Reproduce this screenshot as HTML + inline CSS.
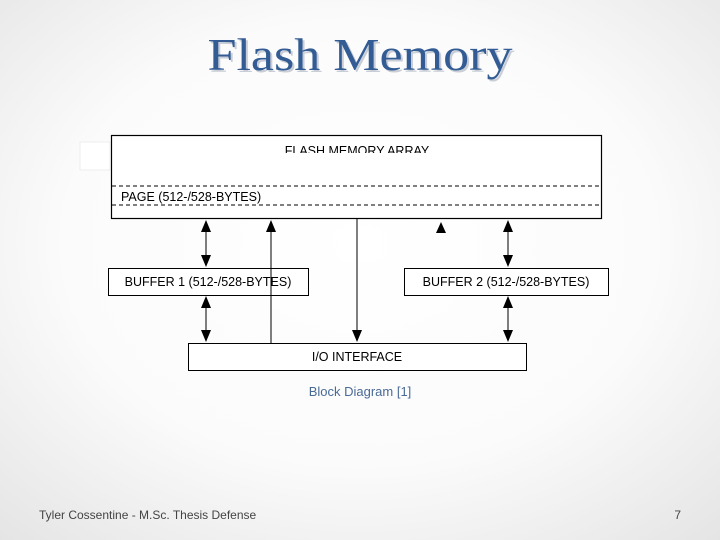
<!DOCTYPE html>
<html><head><meta charset="utf-8"><style>
html,body{margin:0;padding:0;}
body{width:720px;height:540px;overflow:hidden;background:radial-gradient(ellipse 75% 75% at 50% 45%,#ffffff 0%,#fbfbfb 55%,#e4e4e4 100%);}
</style></head><body>
<svg width="720" height="540" xmlns="http://www.w3.org/2000/svg" style="position:absolute;left:0;top:0">
<text x="360" y="70" text-anchor="middle" font-family="Liberation Serif, serif" font-size="46" fill="#c8cdd6" textLength="305" lengthAdjust="spacingAndGlyphs" transform="translate(2,2)">Flash Memory</text>
<text x="360" y="70" text-anchor="middle" font-family="Liberation Serif, serif" font-size="46" fill="#335c94" textLength="305" lengthAdjust="spacingAndGlyphs">Flash Memory</text>
<rect x="80" y="142" width="30" height="28" fill="#fff" stroke="#eee"/>
<g font-family="Liberation Sans, sans-serif" font-size="12.5" fill="#000">
<rect x="111.5" y="135.5" width="490" height="83" fill="#fff" stroke="#000" stroke-width="1.2"/>
<text x="357" y="155" text-anchor="middle">FLASH MEMORY ARRAY</text>
<rect x="200" y="153" width="300" height="5" fill="#fff"/>
<line x1="112" y1="186" x2="601" y2="186" stroke="#000" stroke-dasharray="4,3"/>
<line x1="112" y1="205" x2="601" y2="205" stroke="#000" stroke-dasharray="4,3"/>
<text x="121" y="201">PAGE (512-/528-BYTES)</text>
<rect x="108.5" y="268.5" width="200" height="27" fill="#fff" stroke="#000"/>
<text x="208" y="286" text-anchor="middle">BUFFER 1 (512-/528-BYTES)</text>
<rect x="404.5" y="268.5" width="204" height="27" fill="#fff" stroke="#000"/>
<text x="506" y="286" text-anchor="middle">BUFFER 2 (512-/528-BYTES)</text>
<rect x="188.5" y="343.5" width="338" height="27" fill="#fff" stroke="#000"/>
<text x="357" y="361" text-anchor="middle">I/O INTERFACE</text>
</g>
<g stroke="#000" stroke-width="1">
<line x1="206" y1="225" x2="206" y2="262"/>
<line x1="206" y1="301" x2="206" y2="337"/>
<line x1="271" y1="343" x2="271" y2="225"/>
<line x1="357" y1="219" x2="357" y2="337"/>
<line x1="508" y1="225" x2="508" y2="262"/>
<line x1="508" y1="301" x2="508" y2="337"/>
</g>
<g fill="#000">
<polygon points="206,220 201,232 211,232"/>
<polygon points="206,267 201,255 211,255"/>
<polygon points="206,296 201,308 211,308"/>
<polygon points="206,342 201,330 211,330"/>
<polygon points="271,220 266,232 276,232"/>
<polygon points="357,342 352,330 362,330"/>
<polygon points="441,222 436,233 446,233"/>
<polygon points="508,220 503,232 513,232"/>
<polygon points="508,267 503,255 513,255"/>
<polygon points="508,296 503,308 513,308"/>
<polygon points="508,342 503,330 513,330"/>
</g>
<text x="360" y="396" text-anchor="middle" font-family="Liberation Sans, sans-serif" font-size="13" fill="#4a6a96">Block Diagram [1]</text>
<text x="39" y="519" font-family="Liberation Sans, sans-serif" font-size="12" fill="#444">Tyler Cossentine - M.Sc. Thesis Defense</text>
<text x="681" y="519" text-anchor="end" font-family="Liberation Sans, sans-serif" font-size="12" fill="#444">7</text>
</svg>
</body></html>
